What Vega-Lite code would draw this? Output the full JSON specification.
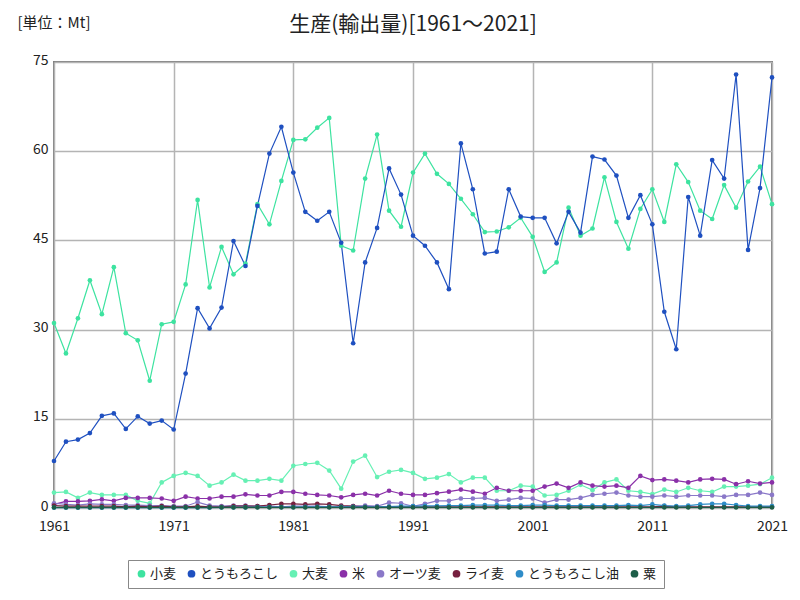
{
  "$schema": "https://vega.github.io/schema/vega-lite/v6.json",
  "width": 718,
  "height": 446,
  "autosize": {"type": "none"},
  "padding": {"left": 54, "top": 62, "right": 28, "bottom": 92},
  "background": "white",
  "config": {
    "font": "Noto Sans CJK JP",
    "view": {"stroke": "#808080", "strokeWidth": 2},
    "axis": {"labelFont": "Noto Sans CJK JP", "labelFontSize": 14, "labelColor": "#222", "gridColor": "#b4b4b4", "gridWidth": 1.5, "domain": false, "ticks": false}
  },
  "title": {"text": "生産(輸出量)[1961～2021]", "fontSize": 21, "font": "Noto Sans CJK JP", "fontWeight": "normal", "anchor": "middle", "frame": "group", "offset": 0, "dy": 20, "color": "#222"},
  "data": {"values": [
    {"y":1961,"小麦":31.1,"とうもろこし":7.9,"大麦":2.6,"米":0.6,"オーツ麦":0.8,"ライ麦":0.4,"とうもろこし油":0.05,"粟":0.1},
    {"y":1962,"小麦":26.0,"とうもろこし":11.15,"大麦":2.7,"米":1.1,"オーツ麦":0.6,"ライ麦":0.3,"とうもろこし油":0.05,"粟":0.1},
    {"y":1963,"小麦":31.9,"とうもろこし":11.5,"大麦":1.7,"米":1.1,"オーツ麦":0.5,"ライ麦":0.3,"とうもろこし油":0.05,"粟":0.1},
    {"y":1964,"小麦":38.3,"とうもろこし":12.6,"大麦":2.6,"米":1.2,"オーツ麦":0.7,"ライ麦":0.3,"とうもろこし油":0.05,"粟":0.1},
    {"y":1965,"小麦":32.6,"とうもろこし":15.5,"大麦":2.2,"米":1.45,"オーツ麦":0.6,"ライ麦":0.3,"とうもろこし油":0.05,"粟":0.1},
    {"y":1966,"小麦":40.5,"とうもろこし":15.9,"大麦":2.2,"米":1.2,"オーツ麦":0.6,"ライ麦":0.3,"とうもろこし油":0.05,"粟":0.1},
    {"y":1967,"小麦":29.4,"とうもろこし":13.3,"大麦":2.2,"米":1.7,"オーツ麦":0.5,"ライ麦":0.2,"とうもろこし油":0.05,"粟":0.1},
    {"y":1968,"小麦":28.2,"とうもろこし":15.4,"大麦":1.2,"米":1.7,"オーツ麦":0.5,"ライ麦":0.3,"とうもろこし油":0.05,"粟":0.1},
    {"y":1969,"小麦":21.4,"とうもろこし":14.2,"大麦":0.8,"米":1.7,"オーツ麦":0.4,"ライ麦":0.2,"とうもろこし油":0.05,"粟":0.1},
    {"y":1970,"小麦":30.9,"とうもろこし":14.7,"大麦":4.3,"米":1.6,"オーツ麦":0.4,"ライ麦":0.3,"とうもろこし油":0.05,"粟":0.1},
    {"y":1971,"小麦":31.3,"とうもろこし":13.2,"大麦":5.4,"米":1.2,"オーツ麦":0.3,"ライ麦":0.2,"とうもろこし油":0.05,"粟":0.1},
    {"y":1972,"小麦":37.6,"とうもろこし":22.6,"大麦":5.9,"米":1.9,"オーツ麦":0.3,"ライ麦":0.2,"とうもろこし油":0.05,"粟":0.1},
    {"y":1973,"小麦":51.8,"とうもろこし":33.6,"大麦":5.4,"米":1.6,"オーツ麦":1.0,"ライ麦":0.3,"とうもろこし油":0.05,"粟":0.1},
    {"y":1974,"小麦":37.1,"とうもろこし":30.2,"大麦":3.75,"米":1.6,"オーツ麦":0.4,"ライ麦":0.2,"とうもろこし油":0.05,"粟":0.1},
    {"y":1975,"小麦":43.9,"とうもろこし":33.7,"大麦":4.3,"米":1.9,"オーツ麦":0.3,"ライ麦":0.2,"とうもろこし油":0.1,"粟":0.1},
    {"y":1976,"小麦":39.3,"とうもろこし":44.9,"大麦":5.6,"米":1.9,"オーツ麦":0.4,"ライ麦":0.3,"とうもろこし油":0.1,"粟":0.1},
    {"y":1977,"小麦":41.1,"とうもろこし":40.7,"大麦":4.6,"米":2.3,"オーツ麦":0.4,"ライ麦":0.3,"とうもろこし油":0.1,"粟":0.1},
    {"y":1978,"小麦":51.1,"とうもろこし":50.8,"大麦":4.6,"米":2.1,"オーツ麦":0.3,"ライ麦":0.3,"とうもろこし油":0.15,"粟":0.1},
    {"y":1979,"小麦":47.7,"とうもろこし":59.6,"大麦":4.9,"米":2.1,"オーツ麦":0.3,"ライ麦":0.5,"とうもろこし油":0.15,"粟":0.1},
    {"y":1980,"小麦":55.0,"とうもろこし":64.1,"大麦":4.6,"米":2.7,"オーツ麦":0.2,"ライ麦":0.7,"とうもろこし油":0.15,"粟":0.1},
    {"y":1981,"小麦":61.9,"とうもろこし":56.4,"大麦":7.1,"米":2.7,"オーツ麦":0.3,"ライ麦":0.7,"とうもろこし油":0.15,"粟":0.1},
    {"y":1982,"小麦":62.0,"とうもろこし":49.8,"大麦":7.4,"米":2.4,"オーツ麦":0.3,"ライ麦":0.6,"とうもろこし油":0.2,"粟":0.1},
    {"y":1983,"小麦":63.95,"とうもろこし":48.3,"大麦":7.6,"米":2.2,"オーツ麦":0.3,"ライ麦":0.7,"とうもろこし油":0.2,"粟":0.1},
    {"y":1984,"小麦":65.6,"とうもろこし":49.8,"大麦":6.3,"米":2.1,"オーツ麦":0.2,"ライ麦":0.6,"とうもろこし油":0.2,"粟":0.1},
    {"y":1985,"小麦":44.1,"とうもろこし":44.6,"大麦":3.25,"米":1.8,"オーツ麦":0.2,"ライ麦":0.4,"とうもろこし油":0.2,"粟":0.1},
    {"y":1986,"小麦":43.3,"とうもろこし":27.7,"大麦":7.8,"米":2.2,"オーツ麦":0.3,"ライ麦":0.3,"とうもろこし油":0.2,"粟":0.1},
    {"y":1987,"小麦":55.4,"とうもろこし":41.3,"大麦":8.8,"米":2.4,"オーツ麦":0.4,"ライ麦":0.2,"とうもろこし油":0.2,"粟":0.1},
    {"y":1988,"小麦":62.8,"とうもろこし":47.1,"大麦":5.2,"米":2.1,"オーツ麦":0.3,"ライ麦":0.2,"とうもろこし油":0.2,"粟":0.1},
    {"y":1989,"小麦":50.0,"とうもろこし":57.1,"大麦":6.1,"米":2.9,"オーツ麦":0.9,"ライ麦":0.2,"とうもろこし油":0.25,"粟":0.1},
    {"y":1990,"小麦":47.3,"とうもろこし":52.7,"大麦":6.4,"米":2.4,"オーツ麦":0.8,"ライ麦":0.2,"とうもろこし油":0.3,"粟":0.1},
    {"y":1991,"小麦":56.4,"とうもろこし":45.8,"大麦":5.9,"米":2.2,"オーツ麦":0.3,"ライ麦":0.2,"とうもろこし油":0.3,"粟":0.1},
    {"y":1992,"小麦":59.6,"とうもろこし":44.1,"大麦":4.9,"米":2.2,"オーツ麦":0.7,"ライ麦":0.2,"とうもろこし油":0.35,"粟":0.1},
    {"y":1993,"小麦":56.2,"とうもろこし":41.3,"大麦":5.1,"米":2.5,"オーツ麦":1.2,"ライ麦":0.2,"とうもろこし油":0.35,"粟":0.1},
    {"y":1994,"小麦":54.5,"とうもろこし":36.8,"大麦":5.7,"米":2.75,"オーツ麦":1.2,"ライ麦":0.2,"とうもろこし油":0.4,"粟":0.1},
    {"y":1995,"小麦":52.0,"とうもろこし":61.3,"大麦":4.3,"米":3.1,"オーツ麦":1.6,"ライ麦":0.2,"とうもろこし油":0.4,"粟":0.1},
    {"y":1996,"小麦":49.4,"とうもろこし":53.6,"大麦":5.1,"米":2.75,"オーツ麦":1.6,"ライ麦":0.2,"とうもろこし油":0.5,"粟":0.1},
    {"y":1997,"小麦":46.4,"とうもろこし":42.8,"大麦":5.1,"米":2.4,"オーツ麦":1.7,"ライ麦":0.2,"とうもろこし油":0.5,"粟":0.1},
    {"y":1998,"小麦":46.5,"とうもろこし":43.1,"大麦":2.9,"米":3.4,"オーツ麦":1.2,"ライ麦":0.2,"とうもろこし油":0.5,"粟":0.1},
    {"y":1999,"小麦":47.2,"とうもろこし":53.6,"大麦":2.9,"米":2.9,"オーツ麦":1.4,"ライ麦":0.2,"とうもろこし油":0.4,"粟":0.1},
    {"y":2000,"小麦":48.8,"とうもろこし":49.0,"大麦":3.75,"米":2.9,"オーツ麦":1.7,"ライ麦":0.2,"とうもろこし油":0.4,"粟":0.1},
    {"y":2001,"小麦":45.6,"とうもろこし":48.8,"大麦":3.6,"米":2.9,"オーツ麦":1.6,"ライ麦":0.2,"とうもろこし油":0.5,"粟":0.1},
    {"y":2002,"小麦":39.7,"とうもろこし":48.8,"大麦":2.1,"米":3.6,"オーツ麦":0.9,"ライ麦":0.2,"とうもろこし油":0.5,"粟":0.1},
    {"y":2003,"小麦":41.3,"とうもろこし":44.5,"大麦":2.2,"米":4.1,"オーツ麦":1.4,"ライ麦":0.2,"とうもろこし油":0.4,"粟":0.1},
    {"y":2004,"小麦":50.5,"とうもろこし":49.8,"大麦":2.9,"米":3.4,"オーツ麦":1.4,"ライ麦":0.2,"とうもろこし油":0.4,"粟":0.1},
    {"y":2005,"小麦":45.8,"とうもろこし":46.3,"大麦":3.9,"米":4.3,"オーツ麦":1.7,"ライ麦":0.2,"とうもろこし油":0.4,"粟":0.1},
    {"y":2006,"小麦":47.0,"とうもろこし":59.1,"大麦":3.0,"米":3.75,"オーツ麦":2.2,"ライ麦":0.2,"とうもろこし油":0.4,"粟":0.1},
    {"y":2007,"小麦":55.6,"とうもろこし":58.6,"大麦":4.3,"米":3.6,"オーツ麦":2.4,"ライ麦":0.2,"とうもろこし油":0.4,"粟":0.1},
    {"y":2008,"小麦":48.1,"とうもろこし":55.9,"大麦":4.8,"米":3.75,"オーツ麦":2.6,"ライ麦":0.2,"とうもろこし油":0.4,"粟":0.1},
    {"y":2009,"小麦":43.6,"とうもろこし":48.8,"大麦":2.9,"米":3.4,"オーツ麦":2.1,"ライ麦":0.2,"とうもろこし油":0.5,"粟":0.1},
    {"y":2010,"小麦":50.3,"とうもろこし":52.6,"大麦":2.7,"米":5.4,"オーツ麦":1.9,"ライ麦":0.2,"とうもろこし油":0.4,"粟":0.1},
    {"y":2011,"小麦":53.6,"とうもろこし":47.7,"大麦":2.35,"米":4.7,"オーツ麦":1.9,"ライ麦":0.2,"とうもろこし油":0.6,"粟":0.1},
    {"y":2012,"小麦":48.1,"とうもろこし":33.0,"大麦":3.1,"米":4.8,"オーツ麦":2.1,"ライ麦":0.3,"とうもろこし油":0.4,"粟":0.1},
    {"y":2013,"小麦":57.8,"とうもろこし":26.7,"大麦":2.7,"米":4.6,"オーツ麦":1.9,"ライ麦":0.2,"とうもろこし油":0.3,"粟":0.1},
    {"y":2014,"小麦":54.8,"とうもろこし":52.3,"大麦":3.4,"米":4.3,"オーツ麦":2.1,"ライ麦":0.2,"とうもろこし油":0.4,"粟":0.1},
    {"y":2015,"小麦":50.0,"とうもろこし":45.8,"大麦":2.9,"米":4.8,"オーツ麦":2.1,"ライ麦":0.2,"とうもろこし油":0.6,"粟":0.1},
    {"y":2016,"小麦":48.6,"とうもろこし":58.5,"大麦":2.7,"米":4.9,"オーツ麦":2.1,"ライ麦":0.2,"とうもろこし油":0.7,"粟":0.1},
    {"y":2017,"小麦":54.3,"とうもろこし":55.4,"大麦":3.6,"米":4.8,"オーツ麦":1.9,"ライ麦":0.2,"とうもろこし油":0.7,"粟":0.1},
    {"y":2018,"小麦":50.5,"とうもろこし":72.9,"大麦":3.6,"米":4.0,"オーツ麦":2.2,"ライ麦":0.2,"とうもろこし油":0.5,"粟":0.1},
    {"y":2019,"小麦":54.9,"とうもろこし":43.4,"大麦":3.75,"米":4.5,"オーツ麦":2.2,"ライ麦":0.2,"とうもろこし油":0.3,"粟":0.1},
    {"y":2020,"小麦":57.4,"とうもろこし":53.8,"大麦":4.0,"米":4.1,"オーツ麦":2.6,"ライ麦":0.2,"とうもろこし油":0.3,"粟":0.1},
    {"y":2021,"小麦":51.1,"とうもろこし":72.4,"大麦":5.1,"米":4.3,"オーツ麦":2.2,"ライ麦":0.2,"とうもろこし油":0.3,"粟":0.1}
  ]},
  "transform": [
    {"fold": ["小麦","とうもろこし","大麦","米","オーツ麦","ライ麦","とうもろこし油","粟"], "as": ["crop","value"]}
  ],
  "encoding": {
    "x": {"field": "y", "type": "quantitative", "scale": {"domain": [1961, 2021], "nice": false, "zero": false},
      "axis": {"title": null, "values": [1961,1971,1981,1991,2001,2011,2021], "format": "d", "labelPadding": 11, "labelFlush": false}},
    "y": {"field": "value", "type": "quantitative", "scale": {"domain": [0, 75], "nice": false},
      "axis": {"values": [0,15,30,45,60,75], "labelPadding": 6, "labelOffset": -2, "title": "[単位：Mt]", "titleAngle": 0, "titleAlign": "left", "titleBaseline": "middle", "titleX": -37, "titleY": -40, "titleFontSize": 15, "titleFontWeight": "normal", "titleColor": "#222", "titleFont": "Noto Sans CJK JP"}},
    "color": {"field": "crop", "type": "nominal",
      "scale": {"domain": ["小麦","とうもろこし","大麦","米","オーツ麦","ライ麦","とうもろこし油","粟"],
                "range": ["#3de3a0","#1f50c0","#66f0b4","#8a30a8","#8a78c8","#76203f","#2e8cc8","#1d5e48"]},
      "legend": {"title": null, "orient": "none", "legendX": 74, "legendY": 498, "direction": "horizontal", "columns": 8, "symbolType": "circle", "symbolSize": 60, "labelFontSize": 13, "labelFont": "Noto Sans CJK JP", "labelColor": "#222", "strokeColor": "#888", "padding": 7, "columnPadding": 8, "labelOffset": 2, "symbolStrokeWidth": 0}
    }
  },
  "layer": [
    {"mark": {"type": "line", "strokeWidth": 1.2}},
    {"mark": {"type": "circle", "size": 22, "opacity": 1}}
  ]
}
